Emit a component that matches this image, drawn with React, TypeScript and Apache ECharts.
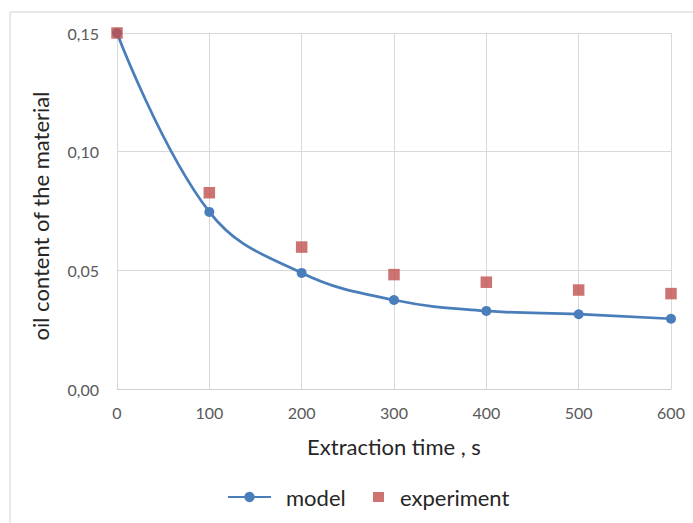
import React, { useEffect, useRef } from "react";
import * as echarts from "echarts";

const timeValues = [0, 100, 200, 300, 400, 500, 600];
const modelValues = [0.15, 0.0746, 0.0489, 0.0375, 0.0329, 0.0315, 0.0296];
const experimentValues = [0.15, 0.0827, 0.0598, 0.0482, 0.045, 0.0417, 0.0402];

const FONT = "Lato, 'Open Sans', sans-serif";

export default function App() {
  const ref = useRef<HTMLDivElement>(null);
  useEffect(() => {
    if (!ref.current) return;
    const chart = echarts.init(ref.current, undefined, { renderer: "svg" });
    chart.setOption({
      animation: false,
      backgroundColor: "#ffffff",
      textStyle: { fontFamily: FONT },
      grid: { left: 117, right: 22, top: 33, bottom: 134 },
      graphic: [
        { type: "line", shape: { x1: 10, y1: 12, x2: 693, y2: 12 }, style: { stroke: "#e0e0e0", lineWidth: 1.5 } },
        { type: "line", shape: { x1: 10, y1: 12, x2: 10, y2: 523 }, style: { stroke: "#e0e0e0", lineWidth: 1.5 } },
      ],
      xAxis: {
        type: "value",
        min: 0,
        max: 600,
        interval: 100,
        name: "Extraction time , s",
        nameLocation: "middle",
        nameGap: 46,
        nameTextStyle: { fontSize: 22, color: "#262626", fontFamily: FONT },
        axisLine: { show: true, lineStyle: { color: "#d0d0d0" } },
        axisTick: { show: false },
        axisLabel: { color: "#595959", fontSize: 16, margin: 15, fontFamily: FONT },
        splitLine: { show: true, lineStyle: { color: "#d9d9d9" } },
      },
      yAxis: {
        type: "value",
        min: 0,
        max: 0.15,
        interval: 0.05,
        name: "oil content of the material",
        nameLocation: "middle",
        nameGap: 66,
        nameTextStyle: { fontSize: 22, color: "#262626", fontFamily: FONT, padding: [0, 10, 0, 0] },
        axisLine: { show: false },
        axisTick: { show: false },
        axisLabel: {
          color: "#595959",
          fontSize: 16,
          margin: 18,
          fontFamily: FONT,
          formatter: (v: number) => v.toFixed(2).replace(".", ","),
        },
        splitLine: { show: true, lineStyle: { color: "#d9d9d9" } },
      },
      legend: [
        {
          data: ["model"],
          left: 222,
          top: 479,
          itemWidth: 43,
          itemHeight: 13,
          textStyle: { fontSize: 22, lineHeight: 26, color: "#262626", fontFamily: FONT, padding: [0, 0, 0, 10] },
        },
        {
          data: [{ name: "experiment", icon: "rect" }],
          left: 368,
          top: 479,
          itemWidth: 11,
          itemHeight: 10,
          textStyle: { fontSize: 22, lineHeight: 26, color: "#262626", fontFamily: FONT, padding: [0, 0, 0, 11] },
        },
      ],
      series: [
        {
          name: "model",
          type: "line",
          smooth: 0.4,
          data: timeValues.map((t, i) => [t, modelValues[i]]),
          symbol: "circle",
          symbolSize: 10,
          lineStyle: { color: "#4a7ebb", width: 2.75 },
          itemStyle: { color: "#4a7ebb" },
          z: 2,
        },
        {
          name: "experiment",
          type: "scatter",
          data: timeValues.map((t, i) => [t, experimentValues[i]]),
          symbol: "rect",
          symbolSize: 11.5,
          itemStyle: { color: "#c0504d" },
          z: 3,
        },
      ],
    });
    return () => chart.dispose();
  }, []);
  return (
    <div
      ref={ref}
      style={{ position: "absolute", left: 0, top: 0, width: 693, height: 523 }}
    />
  );
}
